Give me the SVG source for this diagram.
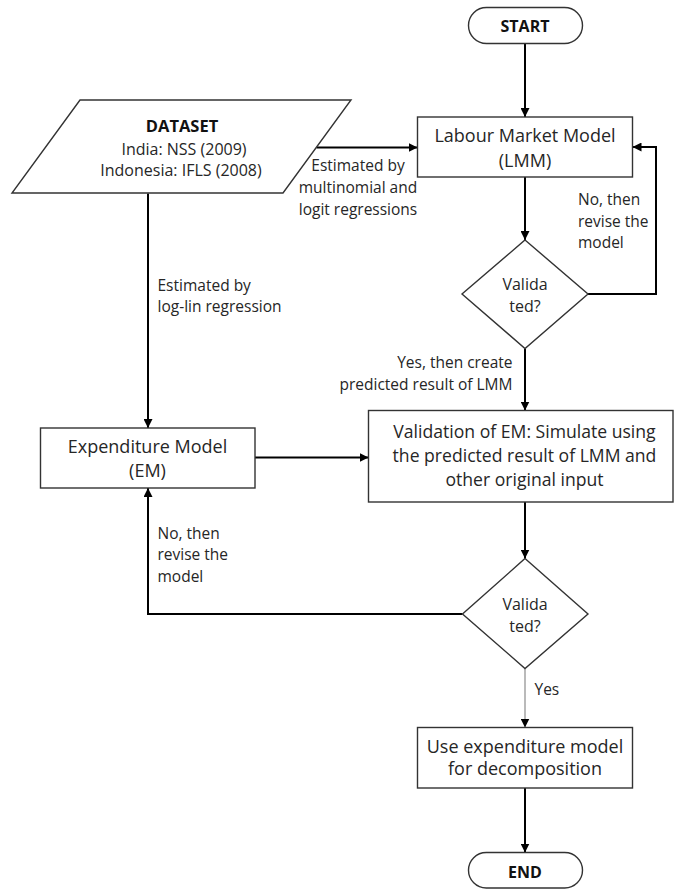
<svg xmlns="http://www.w3.org/2000/svg" width="674" height="889" viewBox="0 0 674 889">
<style>
  text { font-family: "Open Sans", "Noto Sans", "DejaVu Sans", sans-serif; fill: #262626; }
  .node { font-size: 18px; text-anchor: middle; }
  .val { font-size: 17.6px; text-anchor: middle; }
  .term { font-size: 16px; font-weight: bold; text-anchor: middle; fill: #111; }
  .dia { font-size: 16px; text-anchor: middle; }
  .lbl { font-size: 15.5px; }
  .ds { font-size: 16px; text-anchor: middle; }
  .shape { fill: #fff; stroke: #333; stroke-width: 1.4; }
  .conn { fill: none; stroke: #000; stroke-width: 2; marker-end: url(#arr); }
  .thin { fill: none; stroke: #8c8c8c; stroke-width: 1.2; marker-end: url(#arr); }
</style>
<defs>
  <marker id="arr" viewBox="0 0 10 10" refX="10" refY="5" markerUnits="userSpaceOnUse" markerWidth="9" markerHeight="9" orient="auto">
    <path d="M0,0 L10,5 L0,10 z" fill="#000"/>
  </marker>
</defs>
<rect width="674" height="889" fill="#fff"/>

<g id="connectors">
  <path class="conn" d="M525,43.5 V117"/>
  <path class="conn" d="M316.5,147.5 H417.5"/>
  <path class="conn" d="M525,177 V240"/>
  <path class="conn" d="M588,294 H656 V147 H632.5"/>
  <path class="conn" d="M525,348.5 V410.5"/>
  <path class="conn" d="M148,193.5 V428"/>
  <path class="conn" d="M255,457.5 H368.5"/>
  <path class="conn" d="M525,502 V558.5"/>
  <path class="conn" d="M462.5,614 H148 V488"/>
  <path class="thin" d="M525,668.5 V727.5"/>
  <path class="conn" d="M525,788 V852.5"/>
</g>

<g id="start">
  <rect class="shape" x="468.5" y="7.5" width="114" height="36" rx="18"/>
  <text class="term" x="525" y="31.5">START</text>
</g>

<g id="dataset">
  <polygon class="shape" points="80,100 351,100 283,193 12,193"/>
  <text class="ds" x="182" y="132" style="font-weight:bold;font-size:16.5px;fill:#111">DATASET</text>
  <text class="ds" x="184" y="154.5">India: NSS (2009)</text>
  <text class="ds" x="181" y="176">Indonesia: IFLS (2008)</text>
</g>

<g id="lmm">
  <rect class="shape" x="417.5" y="117" width="215" height="60"/>
  <text class="node" x="525" y="141.5">Labour Market Model</text>
  <text class="node" x="525" y="166.5">(LMM)</text>
</g>

<g id="validated1">
  <polygon class="shape" points="525,240 588,294 525,348.5 462,294"/>
  <text class="dia" x="525" y="289.5">Valida</text>
  <text class="dia" x="525" y="311.5">ted?</text>
</g>

<g id="em">
  <rect class="shape" x="40.5" y="428" width="214.5" height="60"/>
  <text class="node" x="147.5" y="452.5">Expenditure Model</text>
  <text class="node" x="147.5" y="476.5">(EM)</text>
</g>

<g id="validation">
  <rect class="shape" x="368.5" y="410.5" width="304.5" height="91.5"/>
  <text class="val" x="524.5" y="437.5">Validation of EM: Simulate using</text>
  <text class="val" x="524.5" y="461.5">the predicted result of LMM and</text>
  <text class="val" x="524.5" y="485.5">other original input</text>
</g>

<g id="validated2">
  <polygon class="shape" points="525,558.5 588,614 525,668.5 462.5,614"/>
  <text class="dia" x="525" y="609.5">Valida</text>
  <text class="dia" x="525" y="631.5">ted?</text>
</g>

<g id="use">
  <rect class="shape" x="417.5" y="727.5" width="215" height="60.5"/>
  <text class="node" x="525" y="753">Use expenditure model</text>
  <text class="node" x="525" y="775">for decomposition</text>
</g>

<g id="end">
  <rect class="shape" x="468.5" y="852.5" width="114" height="35.5" rx="17.75"/>
  <text class="term" x="525" y="877.5">END</text>
</g>

<g id="labels">
  <text class="lbl" x="358" y="171" text-anchor="middle">Estimated by</text>
  <text class="lbl" x="358" y="193" text-anchor="middle">multinomial and</text>
  <text class="lbl" x="358" y="214.5" text-anchor="middle">logit regressions</text>
  <text class="lbl" x="578" y="205">No, then</text>
  <text class="lbl" x="578" y="226.5">revise the</text>
  <text class="lbl" x="578" y="248">model</text>
  <text class="lbl" x="157.5" y="290.5">Estimated by</text>
  <text class="lbl" x="157.5" y="311.5">log-lin regression</text>
  <text class="lbl" x="512.5" y="368" text-anchor="end">Yes, then create</text>
  <text class="lbl" x="512.5" y="390" text-anchor="end">predicted result of LMM</text>
  <text class="lbl" x="157.5" y="538.5">No, then</text>
  <text class="lbl" x="157.5" y="560">revise the</text>
  <text class="lbl" x="157.5" y="581.5">model</text>
  <text class="lbl" x="534.5" y="695">Yes</text>
</g>
</svg>
